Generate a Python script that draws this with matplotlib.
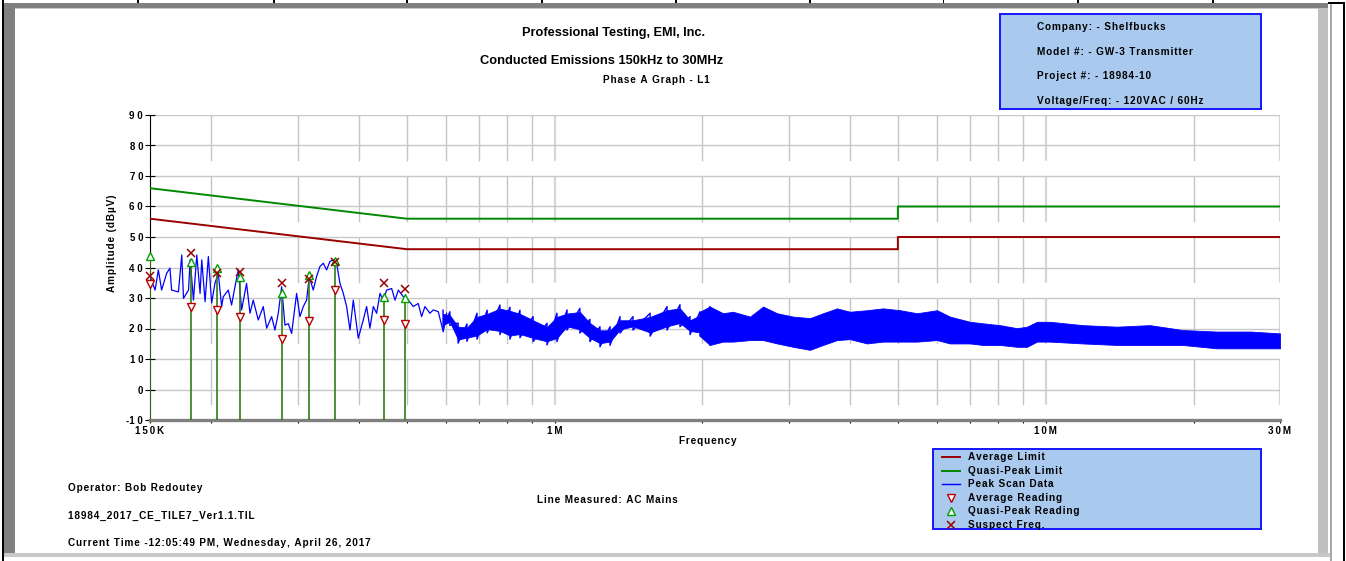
import numpy as np
import matplotlib
matplotlib.use('Agg')
import matplotlib.pyplot as plt
from matplotlib.patches import Rectangle
from matplotlib.lines import Line2D
from matplotlib.ticker import FixedLocator, NullFormatter

W, H = 1346, 561
plt.rcParams['font.family'] = ['Liberation Sans', 'DejaVu Sans']
plt.rcParams['lines.scale_dashes'] = False

# limit lines (MHz, dBuV)
lim_f_mhz = [0.15, 0.5, 5.0, 5.0, 30.0]
qp_lim = [66, 56, 56, 60, 60]
avg_lim = [56, 46, 46, 50, 50]

# peak scan, low band read point by point (kHz, dBuV)
scan_f_khz = [150, 153.6, 156, 158.4, 162.2, 164.7, 166, 171.4, 174.1, 175.5, 179.7, 181.1,
              183.9, 186.8, 189.7, 191.2, 194.2, 197.2, 200.3, 203.4, 206.6, 209.9, 211.5,
              216.5, 219.9, 223.4, 226.9, 230.5, 235.9, 239.7, 243.4, 249.2, 255.1, 259.2,
              265.3, 269.5, 273.7, 278.1, 282.4, 286.9, 291.4, 298.3, 303, 307.8, 312.6,
              316.5, 322.5, 327.5, 332.7, 338, 343.3, 348.7, 354.2, 359.8, 365.5, 371.3,
              377.1, 383.1, 389.1, 398.3, 407.7, 414.2, 420.7, 427.4, 434.1, 441, 447.9,
              455, 465.8, 473.1, 480.6, 491.9, 503.6, 515.4, 527.6, 536, 544.5, 557.3,
              566.2, 579.6, 593.3, 602.6]
scan_db = [37, 32.6, 39.2, 32.6, 38.1, 39.8, 32.6, 32, 44.1, 29.9, 32.6, 42.5,
           29.3, 44.1, 31.5, 42.5, 28.8, 43.6, 28.4, 34.8, 38.1, 27.2, 30.4,
           32.6, 27.7, 33.7, 39.2, 26.1, 34.8, 25, 29.3, 22.8, 27.2, 20.1,
           23.9, 19.5, 25, 33.7, 21.1, 21.6, 18.4, 31.5, 23.9, 27.2, 29.3,
           37, 32.6, 37, 40.3, 41.4, 39.2, 42, 42.5, 41.4, 34.8, 31.5,
           27.2, 19.5, 29.3, 16.8, 22.8, 27.2, 20.1, 27.2, 25, 31.5, 29.3,
           32.6, 33.1, 29.3, 32.6, 30.4, 29.3, 27.2, 28.2, 23.9, 27.2, 25,
           26.1, 25.5, 18.9, 25]

# peak scan, dense band: upper / lower envelope (kHz, dBuV)
env_f_khz = [592.7, 612, 636, 663, 695, 729, 774, 811, 850, 904, 965, 1011, 1060, 1126,
             1180, 1237, 1297, 1359, 1444, 1565, 1694, 1800, 1887, 1977, 2071, 2203, 2308,
             2500, 2658, 2838, 3059, 3312, 3521, 3759, 3995, 4326, 4663, 5052, 5470, 6008,
             6385, 7012, 7452, 8072, 8745, 9162, 9601, 10200, 11900, 13970, 16300, 19000,
             22300, 26100, 30000]
env_hi = [26, 25.5, 21.8, 21.5, 25, 26, 27.7, 27, 26, 23.9, 21.7, 25, 26.1, 26.6,
          23, 20.6, 20.6, 23.9, 23.9, 25, 27.2, 27.8, 23.9, 25.5, 27.2, 25, 25.5,
          23.9, 27.2, 25, 23.9, 23.4, 25, 26.6, 25.5, 26, 26.6, 26, 25, 26,
          23.9, 22.2, 21.7, 21.1, 20.1, 20.6, 22.2, 22.2, 21.1, 20.6, 21.1, 19.5,
          19, 19, 18.4]
env_lo = [20, 21, 15.2, 15.8, 16.5, 18.6, 18, 16.5, 17, 15.7, 14.6, 15.7, 19.5, 18.5,
          15.7, 14, 14.5, 18.5, 19.5, 17.5, 19.5, 20.6, 18, 17.5, 14.6, 15.7, 15.7,
          16.2, 16.2, 15.1, 14, 13, 14.6, 16.2, 16.5, 15.1, 15.7, 15.7, 15.7, 16.2,
          15.1, 15.1, 14.6, 14.6, 14, 14, 15.7, 15.7, 15.1, 14.6, 14.6, 14.6,
          13.5, 13.5, 13.5]

# final readings (kHz, dBuV)
read_f_khz = [150, 181.8, 205.7, 228.7, 278.9, 316.5, 357.1, 448.7, 495.2]
qp_read = [43.8, 41.9, 39.7, 36.8, 31.5, 37.5, 42.0, 30.4, 29.9]
avg_read = [34.5, 27.2, 26.1, 23.9, 16.6, 22.5, 32.6, 22.8, 21.5]
suspect_db = [37.2, 44.7, 38.3, 38.4, 34.8, 36.1, 41.9, 35.0, 32.8]

major_f = [150e3, 1e6, 10e6, 30e6]
major_lbl = ['150K', '1M', '10M', '30M']
minor_f = [200e3, 300e3, 400e3, 500e3, 600e3, 700e3, 800e3, 900e3,
           2e6, 3e6, 4e6, 5e6, 6e6, 7e6, 8e6, 9e6, 20e6]
y_ticks = list(range(-10, 100, 10))

info_lines = ['Company: - Shelfbucks', 'Model #: - GW-3 Transmitter',
              'Project #: - 18984-10', 'Voltage/Freq: - 120VAC / 60Hz']
leg_labels = ['Average Limit', 'Quasi-Peak Limit', 'Peak Scan Data',
              'Average Reading', 'Quasi-Peak Reading', 'Suspect Freq.']

RED = '#990000'
GRN = '#008800'
BLU = '#0000ff'
BOXF = '#a9c9ef'
BOXE = '#1a1aff'
FS = 7.2


def sp(s, gap='\u200a'):
    return gap.join(s)


def fx(x):
    return x / W


def fy(y):
    return 1 - y / H


def rect(x0, y0, x1, y1, color):
    fig.add_artist(Rectangle((fx(x0), fy(y1)), (x1 - x0) / W, (y1 - y0) / H,
                             transform=fig.transFigure, color=color, lw=0))


fig = plt.figure(figsize=(W / 100, H / 100), dpi=100)
fig.patch.set_facecolor('white')

# window frame
rect(2, 0, 3.5, 561, 'black')
rect(3.5, 3, 15, 556, '#808080')
rect(3.5, 3, 1328, 8, '#808080')
rect(15, 8, 1318, 9, '#c8c8c8')
rect(1318, 8, 1328, 556, '#c0c0c0')
rect(1330, 3, 1332, 561, '#a8a8a8')
rect(1343, 3, 1345, 561, 'black')
rect(1328, 2, 1345, 4, 'black')
rect(3.5, 553, 1330, 557, '#c8c8c8')
for tx in [137, 273, 406, 541, 675, 809, 943, 1077, 1212]:
    rect(tx, 0, tx + 1.5, 3, 'black')

ax = fig.add_axes([fx(150), fy(420), (1280 - 150) / W, (420 - 115) / H])

lim_f = np.array(lim_f_mhz) * 1e6
ax.plot(lim_f, avg_lim, color=RED, lw=1.4, zorder=3)
ax.plot(lim_f, qp_lim, color=GRN, lw=1.4, zorder=3)

ax.plot(np.array(scan_f_khz) * 1e3, scan_db, color=BLU, lw=0.9, zorder=4)

# dense part: solid core between the envelopes, spikes out to the envelope below 2 MHz
ef = np.array(env_f_khz) * 1e3
hi = np.array(env_hi)
lo = np.array(env_lo)
low = ef < 2.1e6
zz_f = np.repeat(ef[low], 2)
zz_db = np.column_stack([hi[low], lo[low]]).ravel()
ax.plot(zz_f, zz_db, color=BLU, lw=1.0, zorder=4)
band = ef > 1.9e6
ax.fill_between(ef[band], lo[band], hi[band], color=BLU, lw=0.6, zorder=4)
ax.fill_between(ef[low], lo[low] + 1.2, hi[low] - 1.2, color=BLU, lw=0.6, zorder=4)

rf = np.array(read_f_khz) * 1e3
ax.vlines(rf, -10, qp_read, color='#2f7d14', lw=1.2, zorder=5)
ax.plot(rf, avg_read, 'v', ms=6, mfc='white', mec='#bb0000', mew=1.0, zorder=6, clip_on=False)
ax.plot(rf, qp_read, '^', ms=6, mfc='white', mec='#00a000', mew=1.0, zorder=6, clip_on=False)
ax.plot(rf, suspect_db, 'x', ms=6, color=RED, mew=1.1, zorder=7, clip_on=False)

ax.set_xscale('log')
ax.set_xlim(150e3, 30e6)
ax.set_ylim(-10, 90)
ax.xaxis.set_major_locator(FixedLocator(major_f))
ax.xaxis.set_minor_locator(FixedLocator(minor_f))
ax.xaxis.set_minor_formatter(NullFormatter())
ax.set_xticklabels([sp(t, '\u2009') for t in major_lbl], fontsize=7.0, fontweight='bold')
ax.set_yticks(y_ticks)
ax.set_yticklabels([('-' if t < 0 else '') + sp(str(abs(t)), ' ') for t in y_ticks],
                   fontsize=7.0, fontweight='bold')

dash = (32.94, (32.94, 10.98))
ax.grid(True, axis='x', which='minor', color='#c4c4c4', lw=1.0, linestyle=dash)
ax.grid(True, axis='x', which='major', color='#d6d6d6', lw=1.6, linestyle=dash)
ax.grid(True, axis='y', which='major', color='#c8c8c8', lw=1.0)
ax.set_axisbelow(True)

for s in ['top', 'right']:
    ax.spines[s].set_visible(False)
ax.spines['bottom'].set_color('#808080')
ax.spines['bottom'].set_linewidth(2.4)
ax.spines['left'].set_linewidth(0.8)
ax.tick_params(axis='y', direction='inout', length=7, width=0.8, pad=1.5)
ax.tick_params(axis='x', which='both', direction='out', length=2.5, width=0.8, pad=2.0)

# titles
fig.text(fx(614), fy(33), 'Professional Testing, EMI, Inc.', ha='center', va='center',
         fontsize=9.2, fontweight='bold')
fig.text(fx(602), fy(61), 'Conducted Emissions 150kHz to 30MHz', ha='center', va='center',
         fontsize=9.3, fontweight='bold')
fig.text(fx(656), fy(80), sp('Phase A Graph - L1'), ha='center', va='center',
         fontsize=FS, fontweight='bold')
fig.text(fx(112), fy(243), sp('Amplitude (dB\u00b5V)'), ha='center', va='center',
         rotation=90, fontsize=FS, fontweight='bold')
fig.text(fx(708), fy(441), sp('Frequency'), ha='center', va='center',
         fontsize=FS, fontweight='bold')

# info box
rect(999, 13, 1262, 110, BOXE)
rect(1001, 15, 1260, 108, BOXF)
for i, t in enumerate(info_lines):
    fig.text(fx(1037), fy(27 + 24.7 * i), sp(t), ha='left', va='center',
             fontsize=FS, fontweight='bold')

# legend box
rect(932, 448, 1262, 530, BOXE)
rect(934, 450, 1260, 528, BOXF)
leg_style = [dict(color=RED, lw=1.4), dict(color=GRN, lw=1.4), dict(color=BLU, lw=1.0),
             dict(marker='v', ms=6, mfc='white', mec='#bb0000', mew=1.0, ls='none'),
             dict(marker='^', ms=6, mfc='white', mec='#00a000', mew=1.0, ls='none'),
             dict(marker='x', ms=6, color=RED, mew=1.1, ls='none')]
for i, (lab, st) in enumerate(zip(leg_labels, leg_style)):
    yy = fy(457 + 13.6 * i)
    if i < 3:
        fig.add_artist(Line2D([fx(942), fx(960)], [yy, yy], transform=fig.transFigure, **st))
    else:
        fig.add_artist(Line2D([fx(951)], [yy], transform=fig.transFigure, **st))
    fig.text(fx(968), yy, sp(lab), ha='left', va='center', fontsize=FS, fontweight='bold')

# footer
fig.text(fx(68), fy(488), sp('Operator: Bob Redoutey'), ha='left', va='center',
         fontsize=FS, fontweight='bold')
fig.text(fx(68), fy(516), sp('18984_2017_CE_TILE7_Ver1.1.TIL'), ha='left',
         va='center', fontsize=FS, fontweight='bold')
fig.text(fx(68), fy(543), sp('Current Time -12:05:49 PM, Wednesday, April 26, 2017'),
         ha='left', va='center', fontsize=FS, fontweight='bold')
fig.text(fx(607), fy(500), sp('Line Measured: AC Mains'), ha='center', va='center',
         fontsize=FS, fontweight='bold')

fig.savefig('out.png', dpi=100)
